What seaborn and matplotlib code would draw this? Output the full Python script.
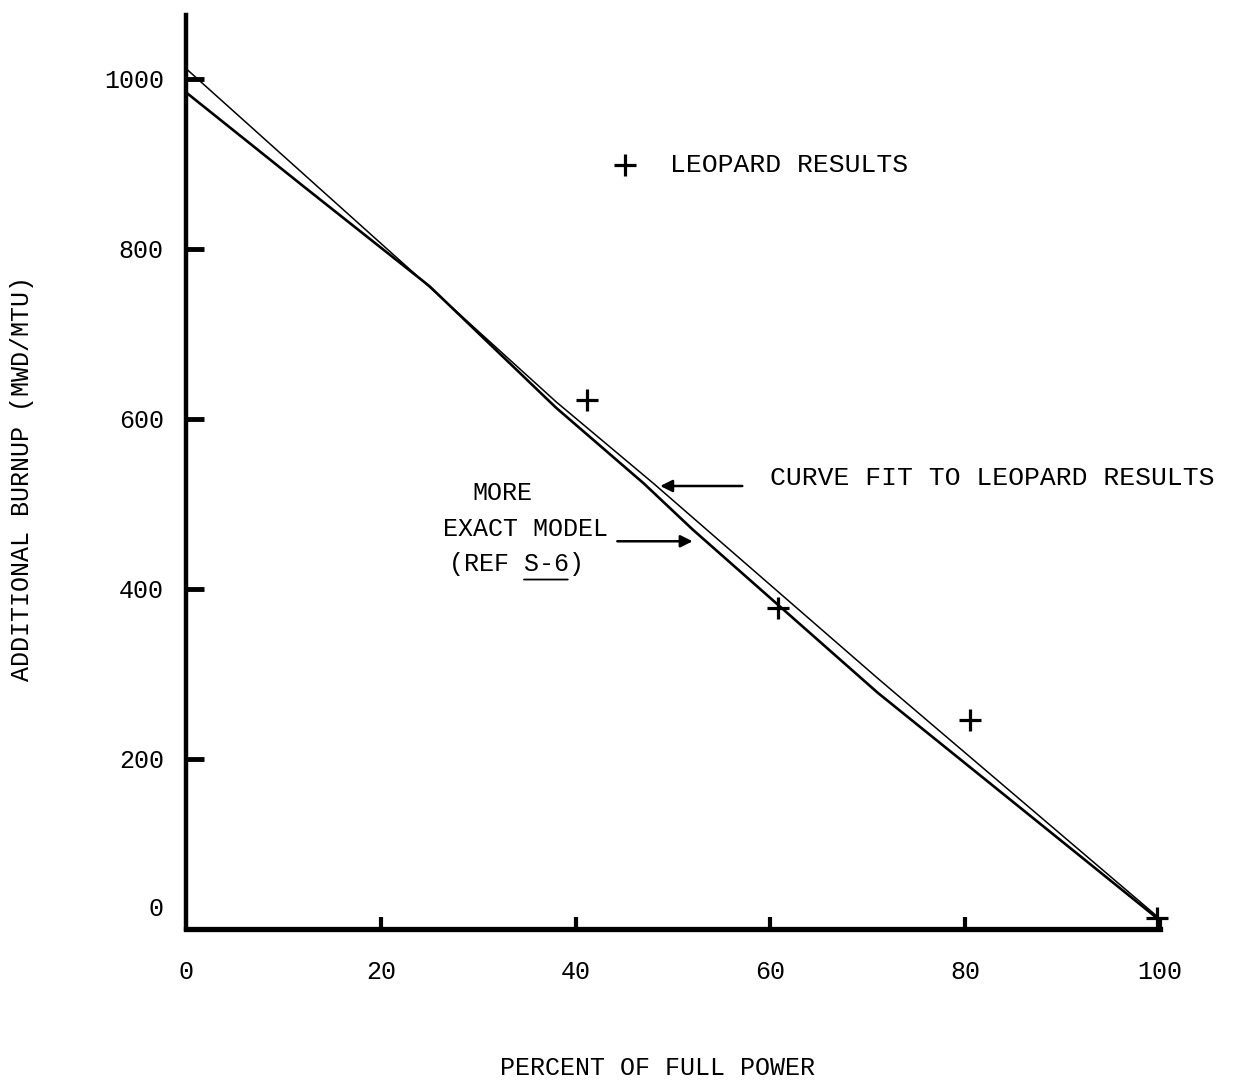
import pandas as pd
import matplotlib.pyplot as plt
import seaborn as sns
from matplotlib.transforms import ScaledTranslation

# Data
fit_x = [0, 25, 38, 48, 71, 100]
fit_y = [1012, 755, 620, 524, 295, 12]

exact_x = [0, 12, 25, 38, 47, 52, 71, 100]
exact_y = [984, 874, 756, 613, 524, 470, 278, 10]

leopard_x = [41.2, 60.8, 80.5, 99.7]
leopard_y = [622, 378, 246, 13]

x_ticks = [0, 20, 40, 60, 80, 100]
y_ticks = [0, 200, 400, 600, 800, 1000]

fit = pd.DataFrame({'power': fit_x, 'burnup': fit_y})
exact = pd.DataFrame({'power': exact_x, 'burnup': exact_y})
leopard = pd.DataFrame({'power': leopard_x, 'burnup': leopard_y})

sns.set_theme(style='white')
plt.rcParams['font.family'] = ['Liberation Mono', 'DejaVu Sans Mono']
plt.rcParams['text.color'] = 'black'
plt.rcParams['axes.labelcolor'] = 'black'

fig = plt.figure(figsize=(12.44, 10.83), dpi=100)
ax = fig.add_axes([0.1495, 0.1422, 0.783, 0.844])

sns.lineplot(data=fit, x='power', y='burnup', color='black', linewidth=1.1, ax=ax)
sns.lineplot(data=exact, x='power', y='burnup', color='black', linewidth=1.9, ax=ax)
sns.scatterplot(data=leopard, x='power', y='burnup', marker='+', s=230,
                color='black', linewidth=2.3, label='LEOPARD RESULTS',
                clip_on=False, ax=ax)

ax.set_xlim(0, 100)
ax.set_ylim(0, 1075)

# spines: only left and bottom, heavy like the hand drawn axes
for side in ['top', 'right']:
    ax.spines[side].set_visible(False)
ax.spines['left'].set_linewidth(3.2)
ax.spines['bottom'].set_linewidth(3.8)
ax.spines['left'].set_color('black')
ax.spines['bottom'].set_color('black')

ax.set_xticks(x_ticks)
ax.set_yticks(y_ticks)
ax.set_xticklabels([str(v) for v in x_ticks])
ax.set_yticklabels([str(v) for v in y_ticks])
ax.tick_params(axis='y', direction='in', length=13, width=3.5, pad=16,
               labelsize=18, colors='black', left=True)
ax.tick_params(axis='x', direction='in', length=9, width=3, pad=22,
               labelsize=18, colors='black', bottom=True)

# the "0" on the y axis sits above the x axis, with no tick of its own
ax.yaxis.get_major_ticks()[0].tick1line.set_visible(False)
lbl0 = ax.get_yticklabels()[0]
lbl0.set_transform(lbl0.get_transform() + ScaledTranslation(0, 0.22, fig.dpi_scale_trans))
ax.xaxis.get_major_ticks()[0].tick1line.set_visible(False)

ax.set_xlabel('PERCENT OF FULL POWER', fontsize=18, va='center')
ax.set_ylabel('ADDITIONAL BURNUP (MWD/MTU)', fontsize=18, va='center')
ax.xaxis.set_label_coords(0.484, -0.152)
ax.yaxis.set_label_coords(-0.168, 0.493)

ax.legend(frameon=False, loc='center left', bbox_to_anchor=(0.437, 0.836),
          borderpad=0, borderaxespad=0, handlelength=1.0, handletextpad=1.2,
          fontsize=19)

# callouts
ax.annotate('', xy=(48.4, 521), xytext=(57.4, 521),
            arrowprops=dict(arrowstyle='-|>', color='black', lw=1.8, mutation_scale=18))
ax.text(60.0, 530, 'CURVE FIT TO LEOPARD RESULTS', fontsize=19, va='center', ha='left')

ax.annotate('', xy=(52.3, 456), xytext=(44.0, 456),
            arrowprops=dict(arrowstyle='-|>', color='black', lw=1.8, mutation_scale=18))
ax.text(32.5, 513, 'MORE', fontsize=18, ha='center', va='center')
ax.text(34.9, 471, 'EXACT MODEL', fontsize=18, ha='center', va='center')
ax.text(33.9, 429, '(REF S-6)', fontsize=18, ha='center', va='center')
# underline under "S-6"
ax.annotate('', xy=(39.2, 411), xytext=(34.7, 411),
            arrowprops=dict(arrowstyle='-', color='black', lw=1.3,
                            shrinkA=0, shrinkB=0))

fig.savefig('out.png', dpi=100, facecolor='white')
